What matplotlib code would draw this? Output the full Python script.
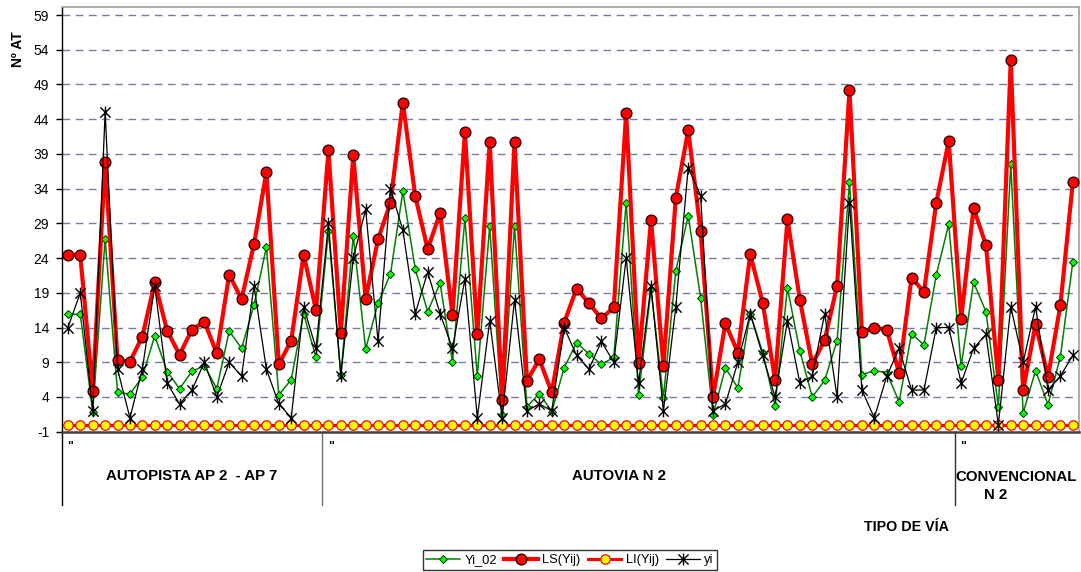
import matplotlib
matplotlib.use("Agg")
import matplotlib.pyplot as plt
from matplotlib.path import Path
from matplotlib.lines import Line2D
import numpy as np

plt.rcParams['font.family'] = ['Liberation Sans', 'DejaVu Sans']

# ---------------- data ----------------
yi_02 = [15.9, 15.9, 1.9, 26.7, 4.7, 4.4, 6.9, 12.8, 7.65, 5.2, 7.7, 8.5, 5.2, 13.5,
         11.0, 17.2, 25.6, 4.3, 6.5, 16.0, 9.7, 27.9, 7.2, 27.2, 10.9, 17.5, 21.7, 33.6,
         22.4, 16.3, 20.4, 9.0, 29.7, 7.0, 28.6, 1.4, 28.6, 2.6, 4.5, 1.9, 8.2, 11.8,
         10.2, 8.7, 9.7, 32.0, 4.3, 19.5, 3.9, 22.15, 30.1, 18.3, 1.4, 8.2, 5.3, 16.0,
         10.4, 2.75, 19.7, 10.6, 4.0, 6.4, 12.1, 34.9, 7.2, 7.8, 7.5, 3.3, 13.1, 11.5,
         21.6, 28.9, 8.4, 20.5, 16.3, 2.6, 37.5, 1.7, 7.8, 2.9, 9.8, 23.4]
ls_yij = [24.5, 24.4, 4.9, 37.9, 9.3, 9.1, 12.7, 20.5, 13.55, 10.1, 13.7, 14.85, 10.3, 21.6,
          18.1, 26.0, 36.4, 8.7, 12.1, 24.5, 16.5, 39.5, 13.2, 38.8, 18.1, 26.7, 32.0, 46.4,
          32.9, 25.3, 30.5, 15.8, 42.1, 13.0, 40.7, 3.6, 40.7, 6.35, 9.4, 4.7, 14.7, 19.6,
          17.5, 15.3, 16.9, 44.9, 8.9, 29.5, 8.5, 32.7, 42.4, 27.9, 4.0, 14.6, 10.4, 24.55,
          17.6, 6.5, 29.6, 18.0, 8.7, 12.2, 20.0, 48.2, 13.3, 14.0, 13.7, 7.5, 21.2, 19.1,
          32.0, 40.9, 15.2, 31.2, 25.9, 6.4, 52.55, 5.0, 14.5, 6.9, 17.2, 34.9]
li_yij = [0] * 82
yi = [14, 19, 2, 45, 8, 1, 8, 20, 6, 3, 5, 9, 4, 9,
      7, 20, 8, 3, 1, 17, 11, 29, 7, 24, 31, 12, 34, 28,
      16, 22, 16, 11, 21, 1, 15, 1, 18, 2, 3, 2, 14, 10,
      8, 12, 9, 24, 6, 20, 2, 17, 37, 33, 2, 3, 9, 16,
      10, 4, 15, 6, 7, 16, 4, 32, 5, 1, 7, 11, 5, 5,
      14, 14, 6, 11, 13, 0, 17, 9, 17, 5, 7, 10]

groups = ["AUTOPISTA AP 2  - AP 7", "AUTOVIA N 2", "CONVENCIONAL"]
group_sizes = [21, 51, 10]
group_sub = ["", "", "N 2"]
first_tick_label = '"'
y_ticks = list(range(-1, 60, 5))
series_names = ["Yi_02", "LS(Yij)", "LI(Yij)", "yi"]

# ---------------- figure ----------------
W, H = 1081, 572
fig = plt.figure(figsize=(W / 100, H / 100), dpi=100)
L, R, T, B = 61.7, 1079, 7.3, 431.7
ax = fig.add_axes([L / W, 1 - B / H, (R - L) / W, (B - T) / H])

x = np.arange(len(yi))

star = Path([(-1, -1), (1, 1), (-1, 1), (1, -1), (0, -1.15), (0, 1.15)],
            [Path.MOVETO, Path.LINETO, Path.MOVETO, Path.LINETO, Path.MOVETO, Path.LINETO])

h1, = ax.plot(x, yi_02, color='#008000', lw=1.1, marker='D', ms=4.3,
              mfc='#00ff00', mec='#003300', mew=0.7, label=series_names[0], zorder=3)
h2, = ax.plot(x, ls_yij, color='#ff0000', lw=3.0, marker='o', ms=7.8,
              mfc='#ff0000', mec='#220000', mew=0.9, label=series_names[1], zorder=4)
h3, = ax.plot(x, li_yij, color='#ff0000', lw=2.2, marker='o', ms=6.8,
              mfc='#ffff00', mec='#ff0000', mew=0.9, label=series_names[2], zorder=5)
h4, = ax.plot(x, yi, color='#000000', lw=0.9, marker=star, ms=8.5,
              mfc='none', mec='#000000', mew=1.0, label=series_names[3], zorder=6)

ax.set_xlim(-0.5, len(yi) - 0.5)
ax.set_ylim(-1, 60.11)
ax.set_yticks(y_ticks)
ax.set_yticklabels([str(v) for v in y_ticks], fontsize=10)
ax.tick_params(axis='y', length=4, width=1, pad=5, direction='out', color='#000000')
ax.set_xticks([])

for v in y_ticks[1:]:
    ax.axhline(v, color='#7a7aa6', lw=1.0, ls=(0, (5.5, 4)), zorder=1)

for s in ['top', 'right']:
    ax.spines[s].set_color('#a0a0a0')
    ax.spines[s].set_linewidth(1.2)
ax.spines['left'].set_color('#000000')
ax.spines['left'].set_linewidth(1.0)
ax.spines['bottom'].set_color('#404040')
ax.spines['bottom'].set_linewidth(1.8)

# category separators and labels
ax_h = B - T
drop = (505 - B) / ax_h
edges = np.cumsum([0] + group_sizes) - 0.5
sep_colors = ['#000000', '#707070', '#303030']
for e, c in zip(edges[:-1], sep_colors):
    ax.add_line(Line2D([e, e], [0, -drop], transform=ax.get_xaxis_transform(),
                       color=c, lw=1.0, clip_on=False))
    ax.text(e + 0.45, -(446.7 - B) / ax_h, first_tick_label, transform=ax.get_xaxis_transform(),
            ha='left', va='center', fontsize=9, fontweight='bold')

def ypix(p):
    return -(p - B) / ax_h

ax.text(10, ypix(476), groups[0], transform=ax.get_xaxis_transform(),
        ha='center', va='center', fontsize=10.8, fontweight='bold')
ax.text(44.4, ypix(476), groups[1], transform=ax.get_xaxis_transform(),
        ha='center', va='center', fontsize=10.8, fontweight='bold')
ax.text(edges[2] + 0.05, ypix(477), groups[2], transform=ax.get_xaxis_transform(),
        ha='left', va='center', fontsize=10.8, fontweight='bold')
ax.text((996 - 67.9) / 12.41, ypix(495), group_sub[2], transform=ax.get_xaxis_transform(),
        ha='center', va='center', fontsize=10.8, fontweight='bold')

fig.text(906 / W, 1 - 527 / H, "TIPO DE VÍA", ha='center', va='center',
         fontsize=10.3, fontweight='bold')
fig.text(18.5 / W, 1 - 49.5 / H, "Nº AT", ha='center', va='center', rotation=90,
         fontsize=10, fontweight='bold')

leg = fig.legend(handles=[h1, h2, h3, h4], loc='center', ncol=4,
                 bbox_to_anchor=(570 / W, 1 - 560 / H), fontsize=9.3,
                 frameon=True, fancybox=False, edgecolor='#000000',
                 handlelength=2.6, handletextpad=0.35, columnspacing=0.55,
                 borderpad=0.3, borderaxespad=0)
leg.get_frame().set_linewidth(1.0)

fig.savefig("out.png", dpi=100)
